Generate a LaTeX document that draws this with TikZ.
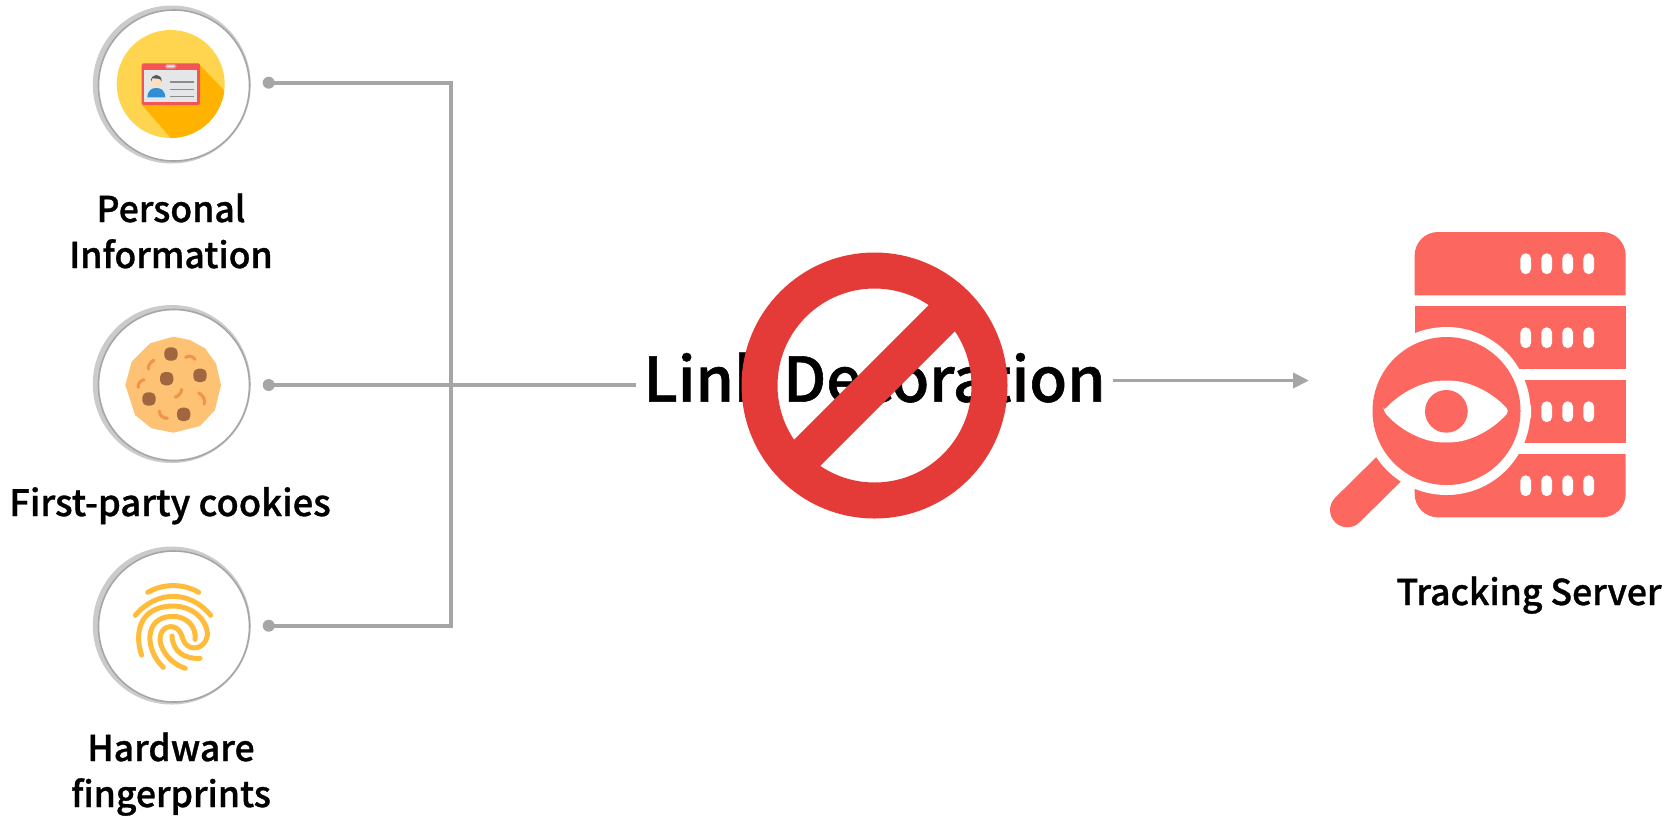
\documentclass[tikz,border=0pt]{standalone}
\usepackage{fontspec}
\usetikzlibrary{arrows.meta}
\newfontfamily\labfont[FakeBold=0.9]{Noto Sans CJK SC Medium}
\definecolor{conn}{HTML}{A6A6A6}
\definecolor{ringlight}{HTML}{CBCBCB}
\definecolor{srv}{HTML}{FC6760}
\definecolor{ban}{HTML}{E53B38}
\definecolor{ylw}{HTML}{FFD54F}
\definecolor{ylwd}{HTML}{FFB300}
\definecolor{cardred}{HTML}{F25555}
\definecolor{cardgrey}{HTML}{E4E6E8}
\definecolor{dough}{HTML}{FDC274}
\definecolor{chip}{HTML}{A0663F}
\definecolor{crumb}{HTML}{F0954A}
\definecolor{finger}{HTML}{FFBC3B}
\tikzset{
  conline/.style={draw=conn,line width=1.9pt},
  condot/.style={circle,fill=conn,draw=none,minimum size=6pt,inner sep=0pt},
  lab/.style={font=\labfont\fontsize{17.8}{22}\selectfont,text=black,anchor=base,inner sep=0pt},
  chipdot/.style={fill=chip,rounded corners=2.5pt},
  crumbline/.style={draw=crumb,line width=1.6pt,line cap=round},
  ridge/.style={draw=finger,line width=2.5pt,line cap=round,line join=round},
  pill/.style={fill=white,rounded corners=2.6pt},
}
\newcommand{\badge}[2]{%
  \fill[ringlight] (171.8,#1-1) circle (79);
  \filldraw[fill=white,draw=conn,line width=.8pt] (174,#1) circle (75.5);
}
\newcommand{\pillrow}[2][4]{%
  \foreach \px in {1525.7,1546.7,1567.7,1588.7}{
    \fill[pill] (\px-5.3,#2-10.4) rectangle (\px+5.3,#2+10.4);
  }
}
\begin{document}
\begin{tikzpicture}[x=0.5pt,y=-0.5pt]
\useasboundingbox (0,0) rectangle (1680,816);
\fill[white] (0,0) rectangle (1680,816);

% connectors
\node[condot] (d1) at (268.7,82.7) {};
\node[condot] (d2) at (268.7,385) {};
\node[condot] (d3) at (268.7,625.7) {};
\coordinate (j1) at (451,82.7);
\coordinate (j3) at (451,625.7);
\coordinate (sv) at (1309,380.5);
\node[font=\labfont\fontsize{30.8}{38}\selectfont,anchor=base,inner xsep=3.5pt,inner ysep=0pt] (lk) at (874.5,401.7) {Link Decoration};
\draw[conline] (d1.center) -- (j1) -- (j3) -- (d3.center);
\draw[conline] (d2.center) -- (d2 -| lk.west);
\draw[conline,-{Triangle[length=8pt,width=7.5pt]}] (sv -| lk.east) -- (sv);

% badges
\badge{85.5}{}
\badge{385}{}
\badge{626.5}{}

% ID icon
\fill[ylw] (170.7,84) circle (54);
\begin{scope}
  \clip (170.7,84) circle (54);
  \fill[ylwd] (198,63) -- (240,107) -- (190,160) -- (142,105) -- cycle;
\end{scope}
\begin{scope}[shift={(80,0)},scale=1/3]
  \fill[cardred,rounded corners=1pt] (185,190) rectangle (360,315);
  \fill[cardgrey] (192,209) rectangle (350,305);
  \filldraw[fill=cardgrey,draw=cardred!70!white,line width=.6pt,rounded corners=.8pt] (256,194) rectangle (288,204);
  \fill[cyan!65!blue!85!white] (202,292) .. controls (204,270) and (215,264) .. (229,264) .. controls (243,264) and (254,270) .. (256,292) -- cycle;
  \fill[orange!25!white] (229,247) circle (16);
  \fill[black!65] (213,245) .. controls (211,218) and (247,218) .. (245,245) .. controls (243,232) and (225,238) .. (218,234) .. controls (216,238) and (215,242) .. (213,245) -- cycle;
  \foreach \ly in {246,268,290}{\draw[black!45,line width=.7pt] (270,\ly) -- (341,\ly);}
\end{scope}

% Cookie icon
\begin{scope}[shift={(80,300)},scale=1/3]
  \fill[dough] (280,110) -- (330,120) -- (375,145) -- (408,190) -- (423,255) -- (405,330) -- (360,378) -- (280,398) -- (215,385) -- (165,345) -- (136,255) -- (155,185) -- (210,130) -- cycle;
  \foreach \cx/\cy in {273/162,260/236,360/226,207/297,311/343}{
    \fill[chipdot] (\cx-20,\cy-20) rectangle (\cx+20,\cy+20);
  }
  \draw[crumbline] (205,207) .. controls (205,195) and (212,184) .. (222,181);
  \draw[crumbline] (175,262) .. controls (173,252) and (180,242) .. (192,239);
  \draw[crumbline] (317,172) .. controls (325,166) and (338,168) .. (345,178);
  \draw[crumbline] (286,291) .. controls (295,289) and (304,280) .. (305,268);
  \draw[crumbline] (356,279) .. controls (368,284) and (376,297) .. (373,312);
  \draw[crumbline] (238,333) .. controls (238,345) and (248,355) .. (262,355);
\end{scope}

% Fingerprint icon
\begin{scope}[shift={(80,540)},scale=1/3]
  \draw[ridge] (203,157) .. controls (250,130) and (310,130) .. (356,157);
  \draw[ridge] (166,226) .. controls (230,150) and (330,150) .. (392,226);
  \draw[ridge] (185,345) .. controls (165,290) and (170,200) .. (278,198)
     .. controls (360,198) and (395,270) .. (378,300)
     .. controls (365,330) and (320,335) .. (308,295)
     .. controls (300,265) and (282,258) .. (270,260)
     .. controls (240,262) and (235,300) .. (245,320)
     .. controls (258,352) and (285,375) .. (316,385);
  \draw[ridge] (250,382) .. controls (195,330) and (190,232) .. (275,229)
     .. controls (325,228) and (350,265) .. (345,298);
  \draw[ridge] (360,355) .. controls (315,358) and (278,335) .. (276,288);
\end{scope}

% labels
\node[lab] (t1a) at (171,222) {Personal};
\node[lab] (t1b) at (171,268) {Information};
\node[lab,font=\labfont\fontsize{18.2}{22}\selectfont] (t2) at (170,516) {First-party cookies};
\node[lab] (t3a) at (171,761) {Hardware};
\node[lab] (t3b) at (171,807) {fingerprints};
\node[lab] (t4) at (1529,605) {Tracking Server};

% prohibition sign
\draw[ban,line width=18pt] (874.5,385.5) circle (115);
\draw[ban,line width=18.5pt] (874.5,385.5) ++(-45:115) -- ++(135:230);

% server icon
\begin{scope}[shift={(1310,220)},scale=1/3]
  \fill[srv] (314,226) -- (314,106) arc[start angle=180,end angle=90,x radius=70,y radius=-70] -- (877,36) arc[start angle=90,end angle=0,x radius=70,y radius=-70] -- (947,226) -- cycle;
  \fill[srv] (314,258) rectangle (947,448);
  \fill[srv] (314,480) rectangle (947,670);
  \fill[srv] (314,702) -- (947,702) -- (947,822) arc[start angle=0,end angle=-90,x radius=70,y radius=-70] -- (384,892) arc[start angle=-90,end angle=-180,x radius=70,y radius=-70] -- cycle;
  \draw[srv,line width=17.3pt,line cap=round] (233.5,750) -- (112,870);
\end{scope}
\pillrow{263.7}
\pillrow{337.7}
\pillrow{411.7}
\pillrow{485.7}
\fill[white] (1446.5,411) circle (84);
\fill[srv] (1446.5,411) circle (74);
\begin{scope}[shift={(1310,220)},scale=1/3]
  \fill[white,rounded corners=2pt] (220,573) .. controls (270,518) and (340,482) .. (409,482) .. controls (478,482) and (548,518) .. (598,573) .. controls (548,630) and (478,667) .. (409,667) .. controls (340,667) and (270,630) .. (220,573) -- cycle;
  \fill[srv] (409,574) circle (64);
\end{scope}
\end{tikzpicture}
\end{document}
